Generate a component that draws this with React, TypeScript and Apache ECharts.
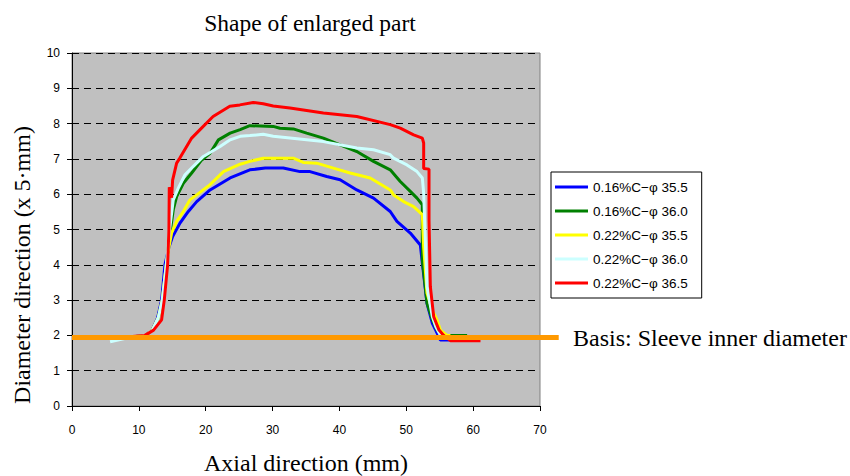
import React, { useEffect, useRef } from "react";
import * as echarts from "echarts";

const seriesNames = [
  "0.16%C−φ 35.5",
  "0.16%C−φ 36.0",
  "0.22%C−φ 35.5",
  "0.22%C−φ 36.0",
  "0.22%C−φ 36.5",
];

const blueData = [
  [8.5, 1.95], [11, 2.0], [12, 2.15], [12.8, 2.5], [13.4, 3.0], [13.9, 4.0], [14.5, 4.5],
  [15.05, 4.8], [16.15, 5.18], [17.4, 5.51], [18.65, 5.79], [20.65, 6.12], [23.65, 6.46],
  [26.6, 6.69], [28.9, 6.74], [31.6, 6.74], [34.1, 6.64], [35.6, 6.64], [38.1, 6.5],
  [40.1, 6.41], [42.6, 6.12], [45.1, 5.89], [47.6, 5.51], [48.6, 5.23], [50.6, 4.9],
  [52.1, 4.56], [52.4, 4.05], [53.1, 2.91], [53.9, 2.34], [54.4, 2.15], [55.1, 1.87], [58.6, 1.87],
];

const greenData = [
  [8.5, 1.95], [11, 2.0], [12, 2.15], [12.9, 2.5], [13.5, 3.0], [14.1, 4.0], [14.6, 4.8],
  [15.15, 5.56], [15.65, 5.93], [16.65, 6.31], [17.9, 6.6], [19.4, 6.97], [20.65, 7.16],
  [21.9, 7.54], [23.65, 7.73], [25.15, 7.83], [26.6, 7.94], [30.1, 7.92], [31.1, 7.87],
  [33.1, 7.85], [35.1, 7.73], [37.6, 7.59], [40.1, 7.4], [42.6, 7.21], [45.1, 6.93],
  [47.6, 6.69], [49.1, 6.36], [50.6, 6.08], [51.6, 5.89], [52.4, 5.7], [52.4, 4.14],
  [53.1, 2.91], [53.9, 2.44], [54.6, 2.15], [55.4, 2.0], [59.1, 2.0],
];

const yellowData = [
  [8.5, 1.95], [11, 2.0], [12, 2.15], [12.9, 2.5], [13.5, 3.0], [14.1, 4.0], [14.5, 4.5],
  [14.9, 4.9], [15.65, 5.23], [16.65, 5.51], [17.65, 5.84], [18.65, 5.98], [20.65, 6.27],
  [22.65, 6.64], [25.15, 6.85], [26.6, 6.93], [28.6, 7.02], [33.1, 7.02], [34.6, 6.9],
  [36.6, 6.88], [39.1, 6.74], [41.6, 6.6], [44.6, 6.46], [47.6, 6.12], [48.1, 5.98],
  [49.6, 5.79], [51.1, 5.65], [52.4, 5.42], [52.6, 4.5], [53.1, 3.2], [53.9, 2.7],
  [54.6, 2.44], [55.1, 2.15], [56.1, 2.0], [56.6, 2.0],
];

const cyanData = [
  [5.7, 1.82], [8.7, 1.95], [11, 2.0], [12, 2.15], [12.9, 2.5], [13.5, 3.0], [14.1, 4.0],
  [14.6, 5.0], [15.15, 5.84], [15.9, 6.17], [16.9, 6.55], [18.15, 6.79], [19.65, 7.07],
  [20.9, 7.21], [22.15, 7.35], [23.65, 7.54], [25.15, 7.64], [26.6, 7.66], [28.6, 7.7],
  [30.1, 7.64], [32.6, 7.59], [37.6, 7.49], [42.6, 7.31], [45.1, 7.26], [47.6, 7.12],
  [48.1, 7.02], [50.1, 6.83], [51.6, 6.64], [52.4, 6.46], [52.6, 6.03], [52.9, 4.42],
  [53.1, 3.38], [53.9, 2.53], [54.4, 2.25], [55.1, 2.0], [55.9, 1.95],
];

const redData = [
  [7.6, 1.95], [10.9, 2.0], [12.2, 2.15], [13.4, 2.44], [13.8, 3.0], [14.3, 4.0], [14.5, 5.0],
  [14.55, 6.2], [14.9, 5.9], [15.05, 6.4], [15.65, 6.88], [16.15, 7.03], [17.9, 7.59],
  [19.15, 7.83], [21.1, 8.2], [23.6, 8.49], [25.1, 8.53], [27.1, 8.6], [28.6, 8.56],
  [30.1, 8.5], [32.6, 8.44], [37.6, 8.3], [42.6, 8.2], [47.6, 7.97], [49.1, 7.87],
  [51.1, 7.68], [52.4, 7.59], [52.6, 7.45], [52.6, 6.73], [53.4, 6.71], [53.4, 5.27],
  [53.6, 3.38], [54.1, 2.53], [54.9, 2.15], [55.6, 2.0], [56.6, 1.85], [61.1, 1.85],
];

const basisStart = [0, 1.94];
const basisEnd = [72.8, 1.94];
const basisLabel = "Basis: Sleeve inner diameter";

const seriesColors = ["#0000ff", "#008000", "#ffff00", "#ccffff", "#ff0000"];
const seriesData = [blueData, greenData, yellowData, cyanData, redData];

export default function App() {
  const ref = useRef<HTMLDivElement>(null);
  useEffect(() => {
    document.body.style.margin = "0";
    if (!ref.current) return;
    const chart = echarts.init(ref.current, null, { renderer: "svg" });
    const serif = "'Liberation Serif', 'Times New Roman', serif";
    const sans = "'Liberation Sans', Arial, sans-serif";
    chart.setOption({
      animation: false,
      title: {
        text: "Shape of enlarged part",
        left: 305,
        top: 6,
        textAlign: "center",
        textStyle: { fontFamily: serif, fontSize: 23.5, fontWeight: "normal", color: "#000" },
      },
      grid: {
        left: 72,
        right: 310,
        top: 53,
        bottom: 70,
        show: true,
        outerBoundsMode: "none",
        containLabel: false,
        backgroundColor: "#c0c0c0",
        borderColor: "#808080",
        borderWidth: 1,
      },
      legend: {
        orient: "vertical",
        left: 551,
        top: 172,
        data: seriesNames,
        icon: "rect",
        itemWidth: 33,
        itemHeight: 3,
        itemGap: 10,
        padding: [8, 14, 8, 4],
        backgroundColor: "#fff",
        borderColor: "#000",
        borderWidth: 1,
        borderRadius: 0,
        textStyle: { fontFamily: sans, fontSize: 13.5, color: "#000" },
      },
      xAxis: {
        type: "value",
        min: 0,
        max: 70,
        interval: 10,
        name: "Axial direction (mm)",
        nameLocation: "middle",
        nameGap: 45,
        nameTextStyle: { fontFamily: serif, fontSize: 24, color: "#000" },
        axisLine: { show: true, onZero: false, lineStyle: { color: "#000", width: 1 } },
        axisTick: { show: true, length: 5, lineStyle: { color: "#000" } },
        axisLabel: { fontFamily: sans, fontSize: 12, color: "#000", margin: 18 },
        splitLine: { show: false },
      },
      yAxis: {
        type: "value",
        min: 0,
        max: 10,
        interval: 1,
        axisLine: { show: true, lineStyle: { color: "#000", width: 1 } },
        axisTick: { show: true, length: 5, lineStyle: { color: "#000" } },
        axisLabel: { fontFamily: sans, fontSize: 12, color: "#000", margin: 12 },
        splitLine: { show: true, lineStyle: { color: "#000", type: [7, 5], width: 1 } },
      },
      graphic: [
        {
          type: "text",
          x: 22,
          y: 265,
          rotation: Math.PI / 2,
          style: {
            text: "Diameter direction (x 5·mm)",
            fontFamily: serif,
            fontSize: 24,
            fill: "#000",
            textAlign: "center",
            textVerticalAlign: "middle",
          },
        },
        {
          type: "text",
          x: 573,
          y: 338,
          style: {
            text: basisLabel,
            fontFamily: serif,
            fontSize: 24,
            fill: "#000",
            textAlign: "left",
            textVerticalAlign: "middle",
          },
        },
      ],
      series: seriesNames.map((name, i) => ({
        name,
        type: "line",
        data: seriesData[i],
        showSymbol: false,
        symbol: "none",
        lineStyle: { color: seriesColors[i], width: 3 },
        itemStyle: { color: seriesColors[i] },
        z: 2 + i,
      })),
    });
    const p0 = chart.convertToPixel({ gridIndex: 0 }, basisStart) as number[];
    const p1 = chart.convertToPixel({ gridIndex: 0 }, basisEnd) as number[];
    chart.setOption({
      graphic: [
        {
          id: "basisLine",
          type: "line",
          z: 100,
          shape: { x1: p0[0], y1: p0[1], x2: p1[0], y2: p1[1] },
          style: { stroke: "#ff9900", lineWidth: 5 },
        },
      ],
    });
    return () => chart.dispose();
  }, []);
  return <div ref={ref} style={{ width: 850, height: 476 }} />;
}
